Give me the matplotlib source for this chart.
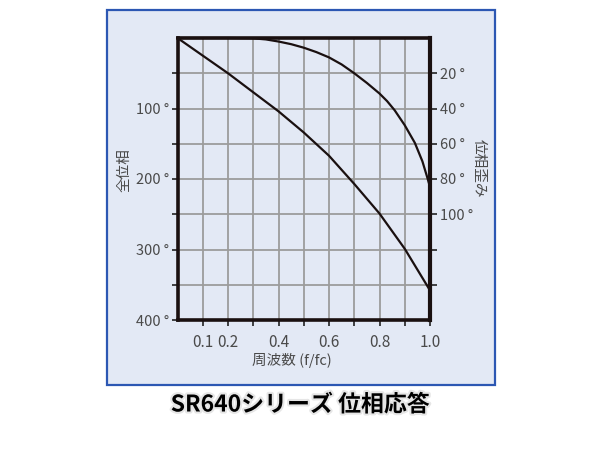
import matplotlib
matplotlib.use("Agg")
import matplotlib.pyplot as plt
from matplotlib.patches import Rectangle
import matplotlib.patheffects as pe

# ---- data ----
freq = [0.0, 0.1, 0.2, 0.3, 0.4, 0.5, 0.6, 0.7, 0.8, 0.9, 1.0]
total_phase = [0, 25, 50, 77, 104, 134, 167, 207, 249, 299, 358]

dist_freq = [0.0, 0.1, 0.2, 0.3, 0.35, 0.4, 0.45, 0.5, 0.55, 0.6, 0.65, 0.7, 0.75,
             0.8, 0.83, 0.86, 0.9, 0.94, 0.97, 0.99, 1.0]
dist_phase = [0, 0, 0, 0.2, 0.8, 2, 3.5, 5.5, 8, 11, 15, 20, 25.5,
              31.5, 35.8, 41, 49.5, 59.5, 70, 79.5, 84.5]

x_ticks = [0.1, 0.2, 0.3, 0.4, 0.5, 0.6, 0.7, 0.8, 0.9, 1.0]
x_labels = ["0.1", "0.2", "", "0.4", "", "0.6", "", "0.8", "", "1.0"]
left_ticks = [50, 100, 150, 200, 250, 300, 350, 400]
left_labels = ["", "100 °", "", "200 °", "", "300 °", "", "400 °"]
right_ticks = [20, 40, 60, 80, 100, 120, 140]
right_labels = ["20 °", "40 °", "60 °", "80 °", "100 °", "", ""]

title = "SR640シリーズ 位相応答"
xlabel = "周波数 (f/fc)"
ylabel_left = "全位相"
ylabel_right = "位相歪み"

W, H = 600, 450
fig = plt.figure(figsize=(6, 4.5), dpi=100)
fig.patch.set_facecolor("white")

tick_font = ["Noto Sans CJK JP", "DejaVu Sans"]
jp_font = ["Noto Sans CJK JP", "DejaVu Sans"]
grey = "#4a4a4a"

# background panel in its own axes, behind everything
bg = fig.add_axes([0, 0, 1, 1], zorder=-10)
bg.set_xlim(0, W)
bg.set_ylim(H, 0)
bg.axis("off")
bg.add_patch(Rectangle((106.5, 9.5), 495 - 106.5, 384.5 - 9.5,
                       facecolor="#e3e9f5", edgecolor="#2c57b3", linewidth=1.6))

ax = fig.add_axes([177.5 / W, 1 - 320 / H, (430 - 177.5) / W, (320 - 38) / H], zorder=1)
ax.set_facecolor("#e3e9f5")
ax.set_xlim(0, 1.0)
ax.set_ylim(400, 0)

ax.set_xticks(x_ticks)
ax.set_xticklabels(x_labels, family=tick_font, fontsize=11, color=grey)
ax.set_yticks(left_ticks)
ax.set_yticklabels(left_labels, family=tick_font, fontsize=10.5, color=grey)
ax.tick_params(axis="both", direction="out", length=4, width=1.2, color="#222222", pad=2)
ax.tick_params(axis="x", pad=6)
ax.grid(True, color="#9c9c9c", linewidth=1.3)
ax.set_axisbelow(True)

for s in ax.spines.values():
    s.set_color("#1a1010")
    s.set_linewidth(2.6)

ax.plot(freq, total_phase, color="#1a1010", linewidth=1.6, zorder=3, clip_on=False)

ax2 = ax.twinx()
ax2.set_ylim(160, 0)
ax2.set_yticks(right_ticks)
ax2.set_yticklabels(right_labels, family=tick_font, fontsize=10.5, color=grey)
ax2.tick_params(axis="y", direction="out", length=5, width=1.2, color="#222222", pad=2)
for s in ax2.spines.values():
    s.set_visible(False)
ax2.spines["right"].set_visible(True)
ax2.spines["right"].set_color("#1a1010")
ax2.spines["right"].set_linewidth(3.0)
ax2.plot(dist_freq, dist_phase, color="#1a1010", linewidth=1.6, zorder=3, clip_on=False,
         solid_joinstyle="round")

fig.text(292 / W, 1 - 360 / H, xlabel, family=jp_font, fontsize=10.5, color=grey,
         ha="center", va="center")
fig.text(124 / W, 1 - 170 / H, ylabel_left, family=jp_font, fontsize=10.5, color=grey,
         ha="center", va="center", rotation=90)
fig.text(479 / W, 1 - 168 / H, ylabel_right, family=jp_font, fontsize=10.5, color=grey,
         ha="center", va="center", rotation=-90)

fig.text(300 / W, 1 - 405 / H, title, family=jp_font, fontsize=16.5, fontweight="bold",
         color="black", ha="center", va="center",
         path_effects=[pe.withStroke(linewidth=3, foreground="#e6e6e6")])

fig.savefig("out.png", dpi=100, facecolor="white")
